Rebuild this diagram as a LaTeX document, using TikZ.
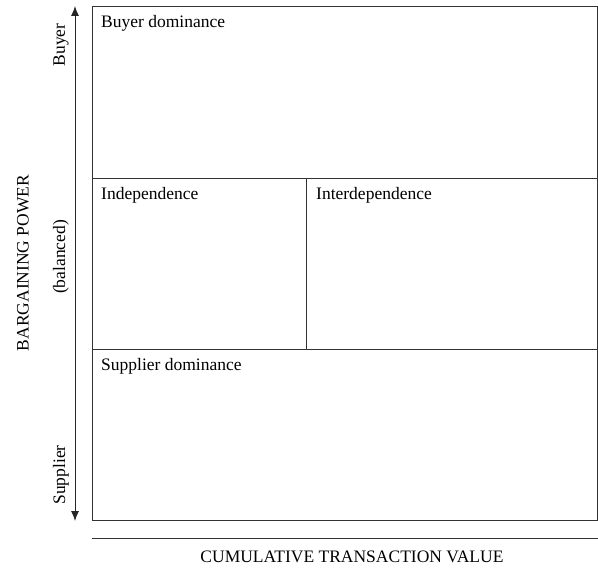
\documentclass[tikz,border=0pt]{standalone}
\usepackage{fontspec}
\setmainfont{Liberation Serif}
\usetikzlibrary{arrows.meta}
\begin{document}
\begin{tikzpicture}[x=1pt,y=-1pt,
  frame/.style={draw=black!80, line width=0.9pt},
  celltext/.style={anchor=base west, inner sep=0pt, font=\fontsize{17.5}{20}\selectfont},
  sidetext/.style={rotate=90, inner sep=0pt, font=\fontsize{17.5}{20}\selectfont},
  axis/.style={draw=black!85, line width=0.9pt, -{Latex[length=10pt,width=8pt]}}]
  \useasboundingbox (0,0) rectangle (598,572);

  % grid corners
  \coordinate (tl) at (92,6);
  \coordinate (br) at (597,520);
  \coordinate (r1l) at (92,178);
  \coordinate (r1r) at (597,178);
  \coordinate (r2l) at (92,349);
  \coordinate (r2r) at (597,349);
  \coordinate (vt) at (306,178);
  \coordinate (vb) at (306,349);

  \draw[frame] (tl) rectangle (br);
  \draw[frame] (r1l) -- (r1r);
  \draw[frame] (r2l) -- (r2r);
  \draw[frame] (vt) -- (vb);

  % cell labels
  \node[celltext] (bd) at (101,28) {Buyer dominance};
  \node[celltext] (ind) at (101,200) {Independence};
  \node[celltext] (intd) at (316,200) {Interdependence};
  \node[celltext] (sd) at (101,371) {Supplier dominance};

  % bargaining power axis
  \coordinate (mid) at (75,263);
  \coordinate (up) at (75,6);
  \coordinate (down) at (75,521);
  \draw[axis] (mid) -- (up);
  \draw[axis] (mid) -- (down);
  \node[sidetext] (buyer) at (61,45) {Buyer};
  \node[sidetext] (supplier) at (61,475) {Supplier};
  \node[sidetext] (bal) at (61,257) {(balanced)};
  \node[sidetext] (bp) at (23,263) {BARGAINING POWER};

  % transaction value axis
  \coordinate (hl) at (92,538);
  \coordinate (hr) at (598,538);
  \draw[frame] (hl) -- (hr);
  \node[inner sep=0pt, anchor=base, font=\fontsize{17.5}{20}\selectfont] (ctv) at (352,562) {CUMULATIVE TRANSACTION VALUE};
\end{tikzpicture}
\end{document}
